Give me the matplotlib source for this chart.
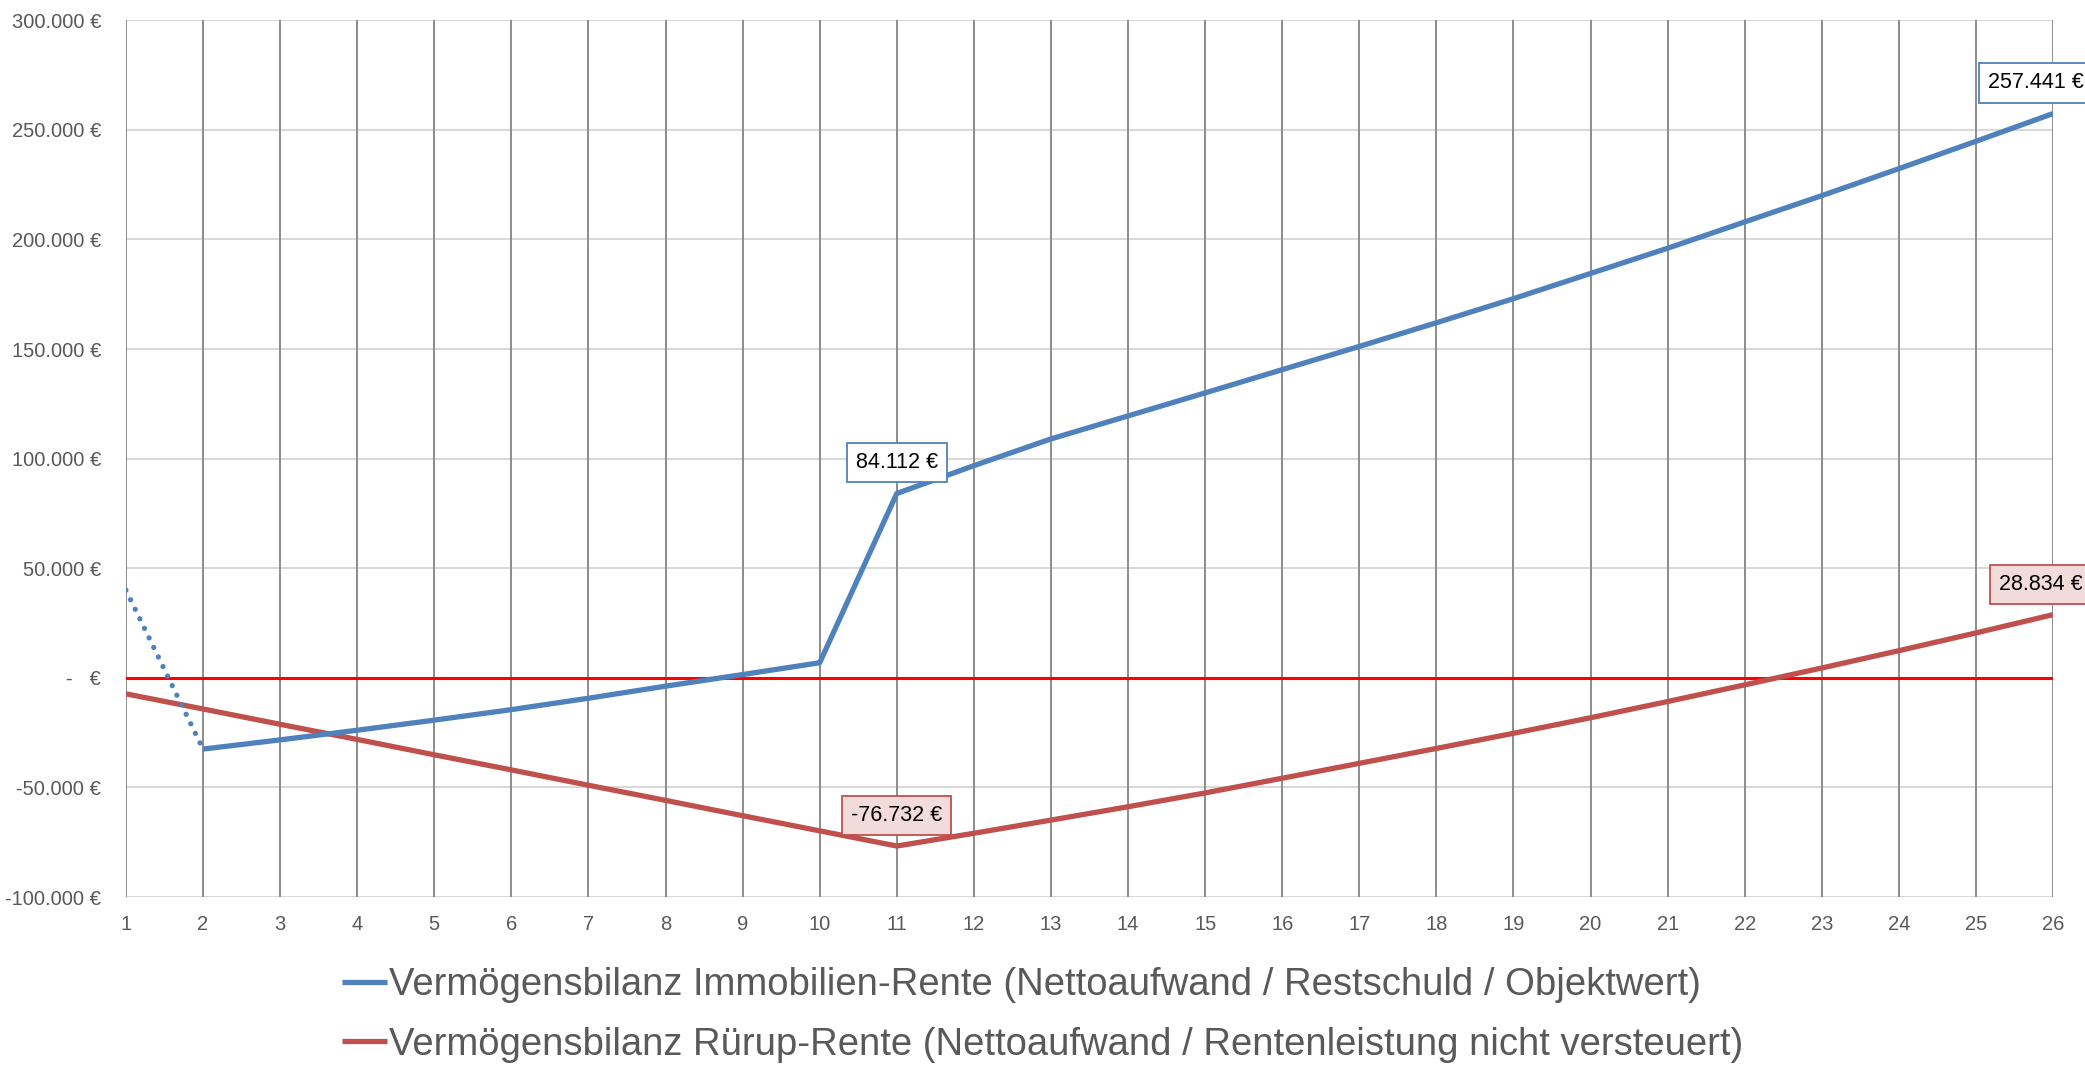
import numpy as np
import matplotlib.pyplot as plt

years = list(range(1, 27))
immobilien = [40000, -32500, -28300, -23900, -19300, -14500, -9300, -3800, 1500, 6900,
              84112, 96800, 109000, 119500, 130000, 140600, 151200, 162000, 173000, 184500,
              196000, 208000, 220000, 232300, 244800, 257441]
ruerup = [-7300, -14200, -21200, -28100, -35100, -42000, -49000, -55900, -62900, -69800,
          -76732, -70900, -64900, -58800, -52500, -45800, -39000, -32200, -25300, -18200,
          -10800, -3200, 4500, 12400, 20500, 28834]
labels = ['Vermögensbilanz Immobilien-Rente (Nettoaufwand / Restschuld / Objektwert)',
          'Vermögensbilanz Rürup-Rente (Nettoaufwand / Rentenleistung nicht versteuert)']
y_ticks = [-100000, -50000, 0, 50000, 100000, 150000, 200000, 250000, 300000]

blue = '#4F81BD'
red = '#C0504D'

plt.rcParams['font.family'] = ['Liberation Sans', 'DejaVu Sans']


def euro(v):
    if v == 0:
        return '-   €'
    return f'{v:,.0f} €'.replace(',', '.')


fig = plt.figure(figsize=(20.85, 10.66), dpi=100)
ax = fig.add_axes([0.0604, 0.1585, 0.9243, 0.8225])

for yt in y_ticks:
    ax.axhline(yt, color='#d9d9d9', lw=1.5, zorder=1)
for x in years:
    ax.axvline(x, color='#8c8c8c', lw=1.4, zorder=1.5)
ax.axhline(0, color='#ff0000', lw=2.2, zorder=2)

# first segment dotted, rest solid
ax.plot(years[:2], immobilien[:2], color=blue, lw=3.8, linestyle=(0, (0.01, 2.0)),
        dash_capstyle='round', zorder=4)
line_b, = ax.plot(years[1:], immobilien[1:], color=blue, lw=3.8, zorder=4,
                  solid_capstyle='butt')
line_r, = ax.plot(years, ruerup, color=red, lw=3.8, zorder=3, solid_capstyle='butt')

ax.set_xlim(1, 26)
ax.set_ylim(-100000, 300000)
ax.set_xticks(years)
ax.set_yticks(y_ticks)
ax.set_yticklabels([euro(v) for v in y_ticks])
ax.tick_params(length=0, labelsize=14.5, labelcolor='#595959')
ax.tick_params(axis='x', pad=13)
ax.tick_params(axis='y', pad=18)
for s in ax.spines.values():
    s.set_visible(False)


def label(x, y, fc, ec, dx):
    ax.annotate(euro(y), xy=(x, y), xytext=(dx, 22), textcoords='offset points',
                ha='center', va='center', fontsize=15.5, color='black',
                bbox=dict(boxstyle='square,pad=0.42', fc=fc, ec=ec, lw=1.3),
                annotation_clip=False, zorder=6)


i_b = immobilien.index(84112)
i_r = ruerup.index(min(ruerup))
label(years[i_b], immobilien[i_b], 'white', blue, 0)
label(years[i_r], ruerup[i_r], '#F2DCDB', red, 0)
label(years[-1], immobilien[-1], 'white', blue, -12)
label(years[-1], ruerup[-1], '#F2DCDB', red, -9)

fig.legend([line_b, line_r], labels, loc='lower left', bbox_to_anchor=(0.151, -0.022),
           frameon=False, ncol=1, handlelength=1.2, handletextpad=0.05,
           labelspacing=0.62, borderaxespad=0.3,
           prop={'size': 27.5}, labelcolor='#595959')

fig.savefig('out.png', dpi=100)
